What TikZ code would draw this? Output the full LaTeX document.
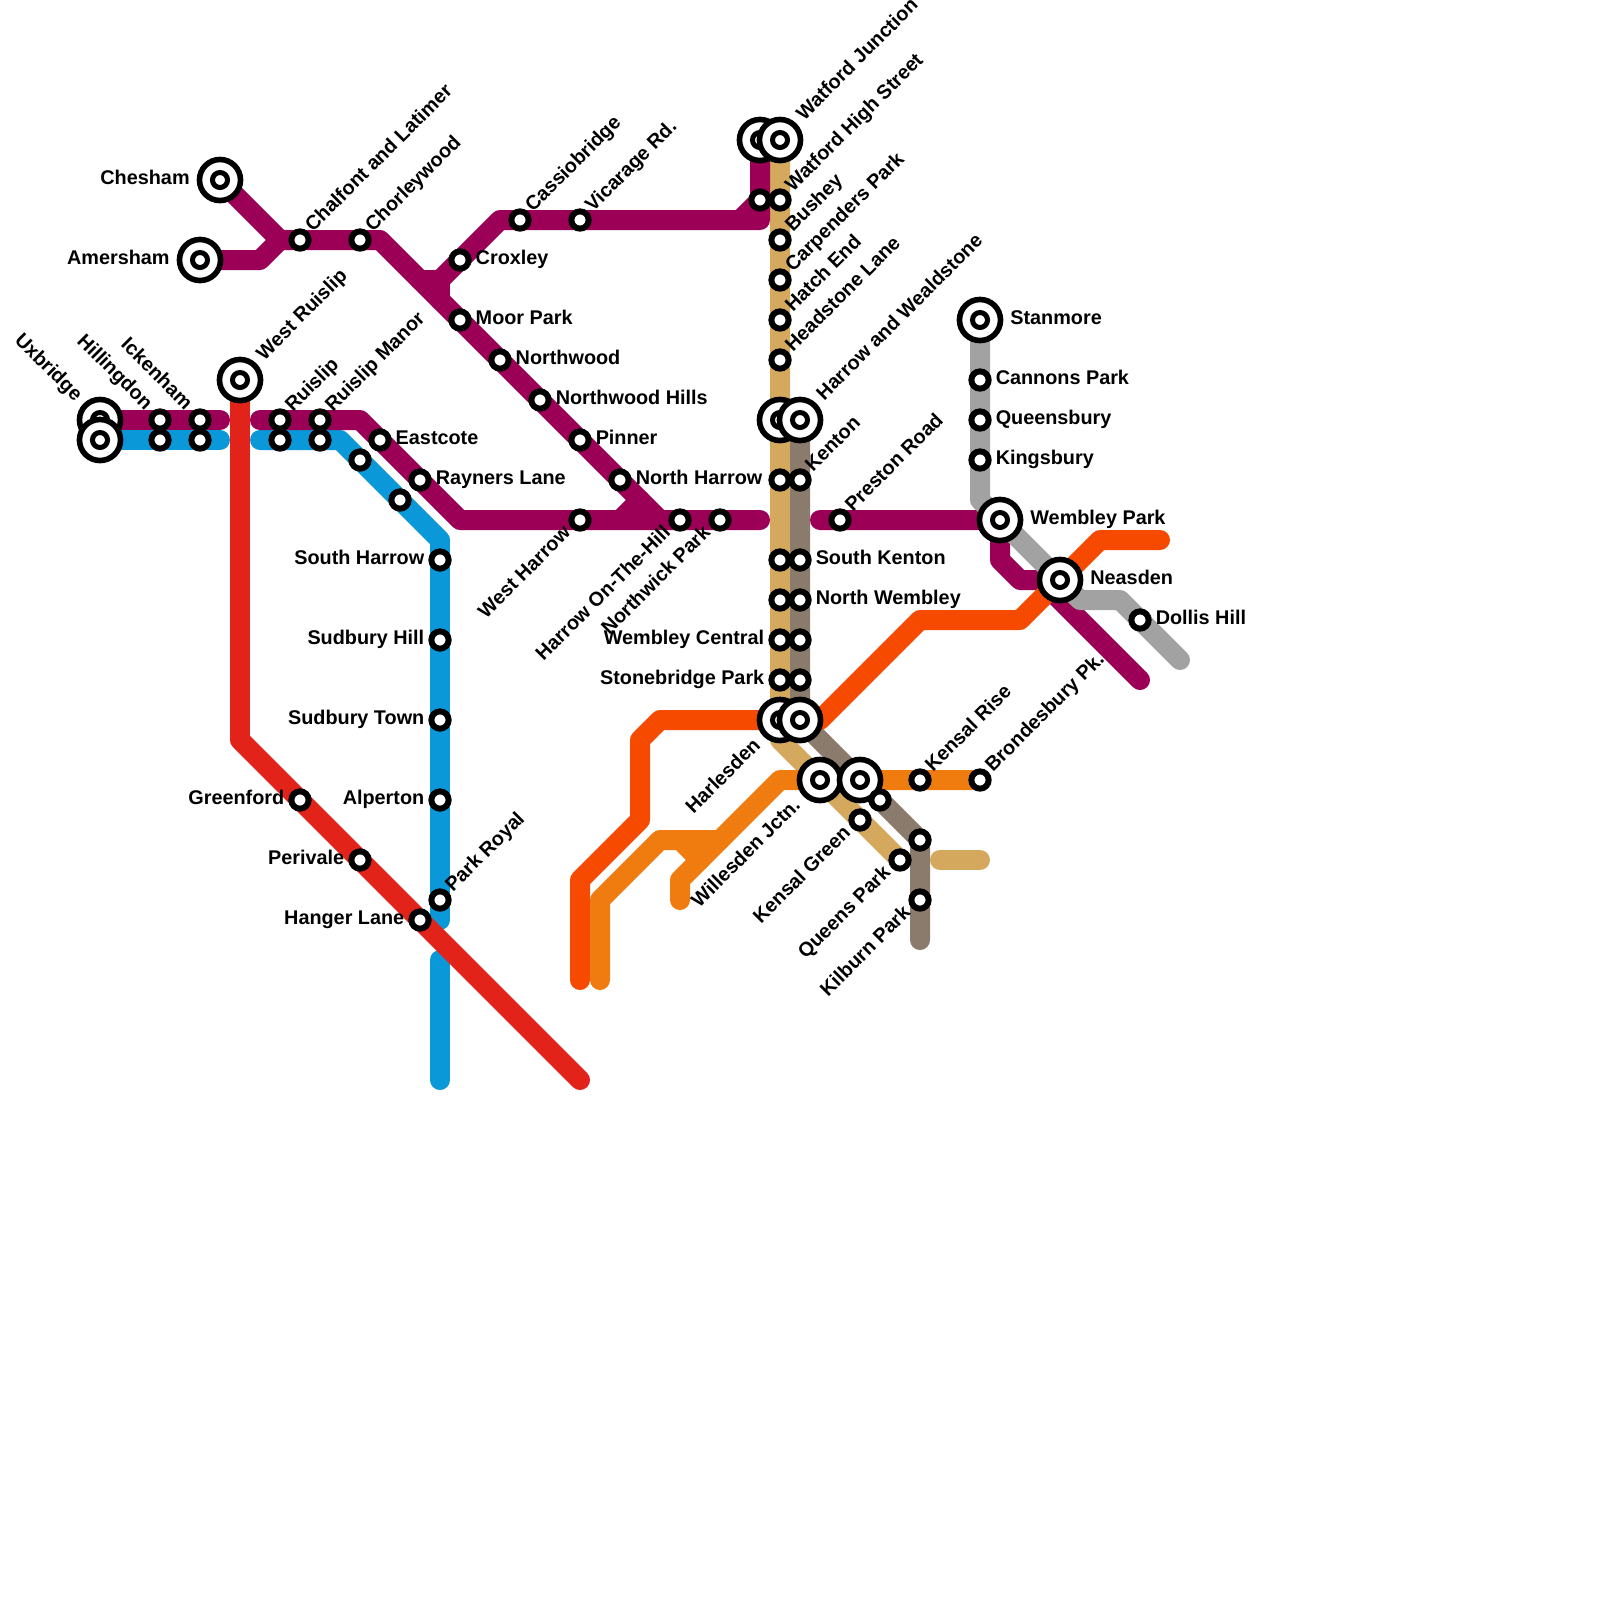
\documentclass[tikz,border=0pt]{standalone}
\usepackage{fontspec}
\setmainfont{Liberation Sans}
\usetikzlibrary{backgrounds}
\definecolor{metline}{HTML}{9B0056}
\definecolor{picline}{HTML}{0B98D8}
\definecolor{cenline}{HTML}{E2231A}
\definecolor{ovrline}{HTML}{F64A00}
\definecolor{wlnline}{HTML}{F07C10}
\definecolor{bakline}{HTML}{8B7B6C}
\definecolor{watline}{HTML}{D4A95D}
\definecolor{jubline}{HTML}{A2A2A2}
\tikzset{
  route/.style={line width=7.11pt, line cap=round, line join=round},
  stop/.style={circle, draw=black, fill=white, line width=2.13pt, inner sep=0pt, minimum size=6.15pt},
  hub/.style={circle, draw=black, fill=white, line width=2pt, inner sep=0pt, minimum size=14.6pt,
    path picture={\draw[line width=1.78pt] (path picture bounding box.center) circle (2.67pt);}},
  stopname/.style={font=\bfseries\fontsize{7.05}{8}\selectfont, inner sep=0pt},
  east name/.style={stopname, anchor=base west, xshift=5.4pt, yshift=-1.5pt},
  west name/.style={stopname, anchor=base east, xshift=-5.4pt, yshift=-1.5pt},
  ne name/.style={stopname, anchor=base west, xshift=4.5pt, yshift=2.5pt, rotate=45},
  sw name/.style={stopname, anchor=base east, xshift=-2.9pt, yshift=-4.8pt, rotate=45},
  nw name/.style={stopname, anchor=base east, xshift=-5.3pt, yshift=3.2pt, rotate=-45},
  hub east/.style={stopname, anchor=base west, xshift=10.6pt, yshift=-1.5pt},
  hub west/.style={stopname, anchor=base east, xshift=-10.6pt, yshift=-1.5pt},
  hub ne/.style={stopname, anchor=base west, xshift=8.5pt, yshift=6.6pt, rotate=45},
  hub sw/.style={stopname, anchor=base east, xshift=-6.5pt, yshift=-9.3pt, rotate=45},
  hub nw/.style={stopname, anchor=base east, xshift=-8.9pt, yshift=6.3pt, rotate=-45},
}
\begin{document}
\begin{tikzpicture}[x=0.25cm, y=-0.25cm]
  \useasboundingbox (0,0) rectangle (80,80);

  % Stops, west end
  \node[hub] (chesham) at (11,9) {};
  \node[hub] (amersham) at (10,13) {};
  \node[hub] (westruislip) at (12,19) {};
  \node[hub] (uxbridgea) at (5,21) {};
  \node[hub] (uxbridge) at (5,22) {};
  \node[stop] (hillingdona) at (8,21) {};
  \node[stop] (hillingdon) at (8,22) {};
  \node[stop] (ickenhama) at (10,21) {};
  \node[stop] (ickenham) at (10,22) {};
  \node[stop] (ruislipa) at (14,21) {};
  \node[stop] (ruislip) at (14,22) {};
  \node[stop] (manora) at (16,21) {};
  \node[stop] (manor) at (16,22) {};
  \node[stop] (eastcote) at (19,22) {};
  \node[stop] (raynersa) at (18,23) {};
  \node[stop] (raynersb) at (20,25) {};
  \node[stop] (rayners) at (21,24) {};
  \node[stop] (southharrow) at (22,28) {};
  \node[stop] (sudburyhill) at (22,32) {};
  \node[stop] (sudburytown) at (22,36) {};
  \node[stop] (alperton) at (22,40) {};
  \node[stop] (parkroyal) at (22,45) {};
  \node[stop] (hanger) at (21,46) {};
  \node[stop] (perivale) at (18,43) {};
  \node[stop] (greenford) at (15,40) {};

  % Stops, Metropolitan main
  \node[stop] (chalfont) at (15,12) {};
  \node[stop] (chorleywood) at (18,12) {};
  \node[stop] (croxley) at (23,13) {};
  \node[stop] (cassiobridge) at (26,11) {};
  \node[stop] (vicarage) at (29,11) {};
  \node[stop] (moorpark) at (23,16) {};
  \node[stop] (northwood) at (25,18) {};
  \node[stop] (northwoodhills) at (27,20) {};
  \node[stop] (pinner) at (29,22) {};
  \node[stop] (northharrow) at (31,24) {};
  \node[stop] (westharrow) at (29,26) {};
  \node[stop] (onthehill) at (34,26) {};
  \node[stop] (northwick) at (36,26) {};
  \node[stop] (preston) at (42,26) {};

  % Stops, Watford to Harlesden
  \node[hub] (watfordj) at (38,7) {};
  \node[hub] (watford) at (39,7) {};
  \node[stop] (highstreeta) at (38,10) {};
  \node[stop] (highstreet) at (39,10) {};
  \node[stop] (bushey) at (39,12) {};
  \node[stop] (carpenders) at (39,14) {};
  \node[stop] (hatchend) at (39,16) {};
  \node[stop] (headstone) at (39,18) {};
  \node[hub] (wealdstonea) at (39,21) {};
  \node[hub] (wealdstone) at (40,21) {};
  \node[stop] (kentona) at (39,24) {};
  \node[stop] (kenton) at (40,24) {};
  \node[stop] (southkentona) at (39,28) {};
  \node[stop] (southkenton) at (40,28) {};
  \node[stop] (northwembleya) at (39,30) {};
  \node[stop] (northwembley) at (40,30) {};
  \node[stop] (wembleycentral) at (39,32) {};
  \node[stop] (wembleycentralb) at (40,32) {};
  \node[stop] (stonebridge) at (39,34) {};
  \node[stop] (stonebridgeb) at (40,34) {};
  \node[hub] (harlesden) at (39,36) {};
  \node[hub] (harlesdenb) at (40,36) {};

  % Stops, south east
  \node[hub] (willesden) at (41,39) {};
  \node[hub] (willesdenb) at (43,39) {};
  \node[stop] (kensalrise) at (46,39) {};
  \node[stop] (brondesbury) at (49,39) {};
  \node[stop] (kensalgreenb) at (44,40) {};
  \node[stop] (kensalgreen) at (43,41) {};
  \node[stop] (queensparkb) at (46,42) {};
  \node[stop] (queenspark) at (45,43) {};
  \node[stop] (kilburn) at (46,45) {};

  % Stops, north east
  \node[hub] (stanmore) at (49,16) {};
  \node[stop] (cannons) at (49,19) {};
  \node[stop] (queensbury) at (49,21) {};
  \node[stop] (kingsbury) at (49,23) {};
  \node[hub] (wembleypark) at (50,26) {};
  \node[hub] (neasden) at (53,29) {};
  \node[stop] (dollis) at (57,31) {};

  % Line ends and bends
  \coordinate (bendamersham) at (13,13);
  \coordinate (junctionwest) at (14,12);
  \coordinate (bendchorley) at (19,12);
  \coordinate (croxleyleft) at (21,14);
  \coordinate (croxleyjoint) at (22,14);
  \coordinate (croxleydown) at (22,15);
  \coordinate (croxleytop) at (25,11);
  \coordinate (watfordcorner) at (38,11);
  \coordinate (watfordstub) at (37,11);
  \coordinate (metend) at (38,26);
  \coordinate (metjoin) at (33,26);
  \coordinate (metstub) at (31,26);
  \coordinate (metstubtop) at (32,25);
  \coordinate (metwestend) at (11,21);
  \coordinate (meteaststart) at (13,21);
  \coordinate (metbend) at (18,21);
  \coordinate (metlow) at (23,26);
  \coordinate (prestonend) at (41,26);
  \coordinate (metdowna) at (50,28);
  \coordinate (metdownb) at (51,29);
  \coordinate (metdownc) at (52,29);
  \coordinate (metdownd) at (57,34);
  \coordinate (picwestend) at (11,22);
  \coordinate (piceaststart) at (13,22);
  \coordinate (picbend) at (17,22);
  \coordinate (piclow) at (22,27);
  \coordinate (picstop) at (22,46);
  \coordinate (picstart) at (22,48);
  \coordinate (picend) at (22,54);
  \coordinate (cenbend) at (12,37);
  \coordinate (cenend) at (29,54);
  \coordinate (ovrstart) at (29,49);
  \coordinate (ovra) at (29,44);
  \coordinate (ovrb) at (32,41);
  \coordinate (ovrc) at (32,37);
  \coordinate (ovrd) at (33,36);
  \coordinate (ovrtwo) at (41,36);
  \coordinate (ovre) at (46,31);
  \coordinate (ovrf) at (51,31);
  \coordinate (ovrg) at (55,27);
  \coordinate (ovrh) at (58,27);
  \coordinate (wlnstart) at (30,49);
  \coordinate (wlna) at (30,45);
  \coordinate (wlnb) at (33,42);
  \coordinate (wlnc) at (36,42);
  \coordinate (wlnd) at (34,42);
  \coordinate (wlne) at (35,43);
  \coordinate (wlnf) at (34,45);
  \coordinate (wlng) at (34,44);
  \coordinate (wlnh) at (39,39);
  \coordinate (watbend) at (39,37);
  \coordinate (watstub) at (47,43);
  \coordinate (watstubend) at (49,43);
  \coordinate (bakend) at (46,47);
  \coordinate (jubbend) at (49,25);
  \coordinate (jubb) at (54,30);
  \coordinate (jubc) at (56,30);
  \coordinate (jubend) at (59,33);

  % Lines, behind the stops
  \begin{scope}[on background layer]
    \draw[route, watline] (watford.center) -- (watbend) -- (queenspark.center);
    \draw[route, watline] (watstub) -- (watstubend);
    \draw[route, bakline] (wealdstone.center) -- (harlesdenb.center) -- (queensparkb.center) -- (bakend);
    \draw[route, ovrline] (ovrstart) -- (ovra) -- (ovrb) -- (ovrc) -- (ovrd) -- (harlesden.center);
    \draw[route, wlnline] (wlnstart) -- (wlna) -- (wlnb) -- (wlnc);
    \draw[route, wlnline] (wlnd) -- (wlne);
    \draw[route, wlnline] (wlnf) -- (wlng) -- (wlnh) -- (brondesbury.center);
    \draw[route, picline] (uxbridge.center) -- (picwestend);
    \draw[route, picline] (piceaststart) -- (picbend) -- (piclow) -- (picstop);
    \draw[route, picline] (picstart) -- (picend);
    \draw[route, cenline] (westruislip.center) -- (cenbend) -- (cenend);
    \draw[route, metline] (chesham.center) -- (junctionwest) -- (bendchorley) -- (metjoin);
    \draw[route, metline] (amersham.center) -- (bendamersham) -- (junctionwest);
    \draw[route, metline] (watfordj.center) -- (watfordcorner) -- (croxleytop) -- (croxleyjoint) -- (croxleyleft);
    \draw[route, metline] (croxleyjoint) -- (croxleydown);
    \draw[route, metline] (watfordstub) -- (highstreeta.center);
    \draw[route, metline] (uxbridgea.center) -- (metwestend);
    \draw[route, metline] (meteaststart) -- (metbend) -- (metlow) -- (metend);
    \draw[route, metline] (metstub) -- (metstubtop);
    \draw[route, metline] (prestonend) -- (wembleypark.center) -- (metdowna) -- (metdownb) -- (metdownc) -- (metdownd);
    \draw[route, jubline] (stanmore.center) -- (jubbend) -- (jubb) -- (jubc) -- (jubend);
    \draw[route, ovrline] (ovrtwo) -- (ovre) -- (ovrf) -- (ovrg) -- (ovrh);
  \end{scope}

  % Names
  \node[hub west] (cheshamname) at (chesham.center) {Chesham};
  \node[hub west] (amershamname) at (amersham.center) {Amersham};
  \node[hub ne] (westruislipname) at (westruislip.center) {West Ruislip};
  \node[hub nw] (uxbridgename) at (uxbridgea.center) {Uxbridge};
  \node[nw name] (hillingdonname) at (hillingdona.center) {Hillingdon};
  \node[nw name] (ickenhamname) at (ickenhama.center) {Ickenham};
  \node[ne name] (ruislipname) at (ruislipa.center) {Ruislip};
  \node[ne name] (manorname) at (manora.center) {Ruislip Manor};
  \node[east name] (eastcotename) at (eastcote.center) {Eastcote};
  \node[east name] (raynersname) at (rayners.center) {Rayners Lane};
  \node[west name] (southharrowname) at (southharrow.center) {South Harrow};
  \node[west name] (sudburyhillname) at (sudburyhill.center) {Sudbury Hill};
  \node[west name] (sudburytownname) at (sudburytown.center) {Sudbury Town};
  \node[west name] (alpertonname) at (alperton.center) {Alperton};
  \node[ne name] (parkroyalname) at (parkroyal.center) {Park Royal};
  \node[west name] (hangername) at (hanger.center) {Hanger Lane};
  \node[west name] (perivalename) at (perivale.center) {Perivale};
  \node[west name] (greenfordname) at (greenford.center) {Greenford};
  \node[ne name] (chalfontname) at (chalfont.center) {Chalfont and Latimer};
  \node[ne name] (chorleywoodname) at (chorleywood.center) {Chorleywood};
  \node[east name] (croxleyname) at (croxley.center) {Croxley};
  \node[ne name] (cassiobridgename) at (cassiobridge.center) {Cassiobridge};
  \node[ne name] (vicaragename) at (vicarage.center) {Vicarage Rd.};
  \node[east name] (moorparkname) at (moorpark.center) {Moor Park};
  \node[east name] (northwoodname) at (northwood.center) {Northwood};
  \node[east name] (northwoodhillsname) at (northwoodhills.center) {Northwood Hills};
  \node[east name] (pinnername) at (pinner.center) {Pinner};
  \node[east name] (northharrowname) at (northharrow.center) {North Harrow};
  \node[sw name] (westharrowname) at (westharrow.center) {West Harrow};
  \node[sw name] (onthehillname) at (onthehill.center) {Harrow On-The-Hill};
  \node[sw name] (northwickname) at (northwick.center) {Northwick Park};
  \node[ne name] (prestonname) at (preston.center) {Preston Road};
  \node[hub ne] (watfordname) at (watford.center) {Watford Junction};
  \node[ne name] (highstreetname) at (highstreet.center) {Watford High Street};
  \node[ne name] (busheyname) at (bushey.center) {Bushey};
  \node[ne name] (carpendersname) at (carpenders.center) {Carpenders Park};
  \node[ne name] (hatchendname) at (hatchend.center) {Hatch End};
  \node[ne name] (headstonename) at (headstone.center) {Headstone Lane};
  \node[hub ne] (wealdstonename) at (wealdstone.center) {Harrow and Wealdstone};
  \node[ne name] (kentonname) at (kenton.center) {Kenton};
  \node[east name] (southkentonname) at (southkenton.center) {South Kenton};
  \node[east name] (northwembleyname) at (northwembley.center) {North Wembley};
  \node[west name] (wembleycentralname) at (wembleycentral.center) {Wembley Central};
  \node[west name] (stonebridgename) at (stonebridge.center) {Stonebridge Park};
  \node[hub sw] (harlesdenname) at (harlesden.center) {Harlesden};
  \node[hub sw] (willesdenname) at (willesden.center) {Willesden Jctn.};
  \node[ne name] (kensalrisename) at (kensalrise.center) {Kensal Rise};
  \node[ne name] (brondesburyname) at (brondesbury.center) {Brondesbury Pk.};
  \node[sw name] (kensalgreenname) at (kensalgreen.center) {Kensal Green};
  \node[sw name] (queensparkname) at (queenspark.center) {Queens Park};
  \node[sw name] (kilburnname) at (kilburn.center) {Kilburn Park};
  \node[hub east] (stanmorename) at (stanmore.center) {Stanmore};
  \node[east name] (cannonsname) at (cannons.center) {Cannons Park};
  \node[east name] (queensburyname) at (queensbury.center) {Queensbury};
  \node[east name] (kingsburyname) at (kingsbury.center) {Kingsbury};
  \node[hub east] (wembleyparkname) at (wembleypark.center) {Wembley Park};
  \node[hub east] (neasdenname) at (neasden.center) {Neasden};
  \node[east name] (dollisname) at (dollis.center) {Dollis Hill};
\end{tikzpicture}
\end{document}
